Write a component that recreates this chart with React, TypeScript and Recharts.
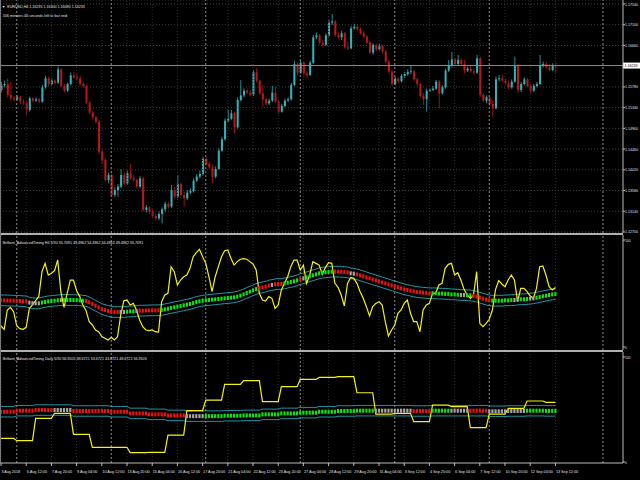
import React from 'react';
import {
  ComposedChart,
  Bar,
  Line,
  XAxis,
  YAxis,
  CartesianGrid,
  ReferenceLine,
} from 'recharts';

// EURUSD H4, 3 Aug - 13 Sep 2018, bar 0 = 3 Aug 04:00
const firstOpen = 1.15715;
const closes = [
  1.15821, 1.15842, 1.15608, 1.15538, 1.15516, 1.15559, 1.15467, 1.15446, 1.1529, 1.15538,
  1.15488, 1.15516, 1.15467, 1.15771, 1.15962, 1.15842, 1.15913, 1.1587, 1.16153, 1.15799,
  1.157, 1.15842, 1.16026, 1.15983, 1.15962, 1.15842, 1.15799, 1.15446, 1.15233, 1.15134,
  1.15042, 1.14405, 1.14228, 1.13804, 1.1391, 1.13485, 1.13591, 1.13662, 1.1391, 1.13733,
  1.13945, 1.13839, 1.13804, 1.13662, 1.13839, 1.13167, 1.13223, 1.13131, 1.13039, 1.1299,
  1.13082, 1.13181, 1.13294, 1.13238, 1.13591, 1.1345, 1.13719, 1.13485, 1.13415, 1.13535,
  1.1357, 1.1379, 1.13875, 1.13931, 1.1425, 1.14143, 1.14073, 1.13875, 1.14037, 1.14426,
  1.14667, 1.15064, 1.15106, 1.15219, 1.14922, 1.15502, 1.15601, 1.157, 1.15658, 1.15615,
  1.1609, 1.15913, 1.15644, 1.15516, 1.15432, 1.15488, 1.15658, 1.15467, 1.15255, 1.15375,
  1.15488, 1.15516, 1.15821, 1.16266, 1.16083, 1.16295, 1.16068, 1.16033, 1.16295, 1.16833,
  1.16875, 1.1672, 1.16677, 1.16875, 1.17144, 1.17172, 1.16882, 1.16833, 1.16918, 1.1662,
  1.16599, 1.17024, 1.17059, 1.17003, 1.16918, 1.16847, 1.1672, 1.16507, 1.1667, 1.16578,
  1.16649, 1.16528, 1.16316, 1.16104, 1.15842, 1.15955, 1.15898, 1.16012, 1.16054, 1.16097,
  1.16111, 1.15941, 1.15842, 1.15587, 1.15516, 1.157, 1.15715, 1.15743, 1.15891, 1.15644,
  1.15771, 1.16125, 1.16224, 1.16366, 1.16266, 1.16351, 1.16266, 1.16125, 1.16168, 1.16111,
  1.16083, 1.16387, 1.15608, 1.15488, 1.15559, 1.15417, 1.15325, 1.15941, 1.15962, 1.15913,
  1.15856, 1.15771, 1.15891, 1.16224, 1.15715, 1.15842, 1.15941, 1.15799, 1.157, 1.15799,
  1.15842, 1.16224, 1.16266, 1.16196, 1.16139, 1.16235, 1.16233,
];
const highs = [
  1.15891, 1.15913, 1.15962, 1.15891, 1.15587, 1.15608, 1.15587, 1.15516, 1.15488, 1.15573,
  1.15559, 1.15559, 1.15545, 1.15821, 1.16012, 1.15998, 1.15962, 1.15941, 1.1621, 1.16175,
  1.15842, 1.1587, 1.16083, 1.16104, 1.16054, 1.16012, 1.15891, 1.15828, 1.15474, 1.15276,
  1.15163, 1.15078, 1.14441, 1.14264, 1.13959, 1.13945, 1.13648, 1.13719, 1.1403, 1.13959,
  1.14002, 1.14143, 1.1391, 1.13839, 1.13889, 1.13875, 1.13273, 1.13252, 1.13181, 1.13096,
  1.13131, 1.13223, 1.13344, 1.13344, 1.13698, 1.13662, 1.1391, 1.13747, 1.13556, 1.13591,
  1.13627, 1.13839, 1.13931, 1.14002, 1.14299, 1.14285, 1.14193, 1.14115, 1.14087, 1.14476,
  1.14724, 1.15113, 1.1529, 1.1529, 1.15255, 1.15559, 1.15927, 1.1575, 1.15743, 1.15715,
  1.16139, 1.16175, 1.15941, 1.15821, 1.15559, 1.1553, 1.15799, 1.15785, 1.15502, 1.15417,
  1.1553, 1.15559, 1.1587, 1.16337, 1.16295, 1.16351, 1.16316, 1.16104, 1.16337, 1.16882,
  1.16932, 1.16903, 1.16762, 1.16918, 1.17201, 1.17328, 1.17201, 1.16932, 1.16974, 1.16946,
  1.16741, 1.17073, 1.17116, 1.17102, 1.17045, 1.1696, 1.16875, 1.16748, 1.16705, 1.16705,
  1.16691, 1.16677, 1.16564, 1.16351, 1.16139, 1.15998, 1.15983, 1.16054, 1.16097, 1.16153,
  1.16245, 1.16139, 1.15969, 1.1587, 1.15644, 1.15743, 1.15757, 1.15799, 1.15927, 1.15927,
  1.15813, 1.16168, 1.16351, 1.16528, 1.16394, 1.16458, 1.1638, 1.16351, 1.1621, 1.16224,
  1.16168, 1.16458, 1.16422, 1.15644, 1.15601, 1.15587, 1.15502, 1.15998, 1.16033, 1.16033,
  1.15955, 1.15913, 1.15941, 1.16422, 1.16266, 1.15884, 1.15983, 1.15969, 1.15842, 1.15842,
  1.15884, 1.16458, 1.16316, 1.16309, 1.16266, 1.16281, 1.163,
];
const lows = [
  1.15658, 1.15771, 1.15559, 1.15488, 1.15467, 1.15488, 1.15417, 1.15396, 1.15184, 1.15255,
  1.15446, 1.1546, 1.15432, 1.15446, 1.15743, 1.15799, 1.15813, 1.15828, 1.15842, 1.15771,
  1.15658, 1.15672, 1.15813, 1.15955, 1.15913, 1.15799, 1.1575, 1.15417, 1.15205, 1.15092,
  1.15007, 1.14356, 1.14157, 1.13769, 1.13733, 1.13436, 1.1345, 1.1345, 1.13627, 1.13698,
  1.13698, 1.13804, 1.13761, 1.13627, 1.13627, 1.13131, 1.1311, 1.13082, 1.1299, 1.12941,
  1.12955, 1.12884, 1.13131, 1.13195, 1.13209, 1.13408, 1.13415, 1.13436, 1.13238, 1.13379,
  1.13507, 1.13535, 1.13761, 1.13839, 1.13903, 1.14115, 1.1403, 1.13733, 1.13839, 1.14016,
  1.14398, 1.14639, 1.15021, 1.15078, 1.14795, 1.14894, 1.15467, 1.15559, 1.15629, 1.15573,
  1.15587, 1.1587, 1.15608, 1.15361, 1.15389, 1.15396, 1.1546, 1.15432, 1.15205, 1.15233,
  1.15347, 1.1546, 1.15488, 1.15799, 1.16026, 1.16054, 1.16026, 1.15962, 1.16012, 1.16266,
  1.1679, 1.16677, 1.16635, 1.16649, 1.16847, 1.17095, 1.16847, 1.1679, 1.16776, 1.16592,
  1.16564, 1.16578, 1.16988, 1.16974, 1.16889, 1.16818, 1.16691, 1.16479, 1.16458, 1.16536,
  1.1655, 1.16493, 1.16281, 1.16068, 1.15799, 1.15813, 1.1587, 1.1587, 1.15969, 1.16012,
  1.16054, 1.15913, 1.15799, 1.15559, 1.15396, 1.15255, 1.15672, 1.15686, 1.15715, 1.15325,
  1.15615, 1.15743, 1.16097, 1.16196, 1.16238, 1.16224, 1.16224, 1.16068, 1.16097, 1.16083,
  1.1604, 1.16054, 1.15573, 1.1546, 1.15432, 1.15375, 1.15134, 1.15304, 1.15898, 1.15884,
  1.15828, 1.15729, 1.15743, 1.1587, 1.15644, 1.15672, 1.15813, 1.15771, 1.15644, 1.15672,
  1.15771, 1.15813, 1.16196, 1.16168, 1.16111, 1.16111, 1.1608,
];

// Brilliant_AdvancedTiming H4: signal line, middle line and its state
const h4Signal = [
  19.6, 16.5, 34.6, 37.1, 33.0, 19.6, 17.1, 16.5, 18.4, 36.1,
  39.3, 43.3, 47.1, 70.4, 78.2, 67.3, 68.9, 71.4, 81.3, 51.7,
  37.1, 50.2, 62.6, 62.6, 52.6, 47.1, 39.3, 34.0, 23.7, 20.6,
  15.9, 14.3, 9.7, 8.1, 6.6, 9.0, 6.6, 9.7, 29.9, 43.3,
  43.9, 39.3, 40.8, 34.6, 25.3, 19.0, 15.9, 15.3, 15.9, 14.3,
  14.0, 42.4, 48.6, 50.2, 75.1, 70.4, 58.0, 62.6, 65.7, 67.3,
  73.5, 84.4, 88.2, 91.3, 84.4, 78.2, 65.7, 51.7, 65.7, 75.1,
  84.4, 90.0, 90.7, 82.9, 76.6, 79.8, 82.0, 82.6, 82.0, 79.8,
  77.6, 72.0, 50.2, 43.9, 43.0, 47.1, 45.5, 36.1, 39.3, 53.3,
  59.5, 65.7, 75.1, 81.3, 81.3, 72.0, 76.6, 59.5, 67.3, 79.8,
  78.2, 76.6, 67.9, 74.5, 78.8, 78.2, 59.5, 55.8, 48.6, 38.3,
  59.5, 65.1, 64.2, 59.5, 51.7, 45.5, 37.7, 29.0, 37.7, 40.8,
  42.4, 39.3, 23.7, 10.3, 15.9, 20.6, 31.5, 34.6, 40.8, 43.9,
  31.5, 23.7, 23.7, 14.3, 34.6, 39.3, 40.8, 50.2, 50.2, 58.0,
  59.5, 73.5, 77.3, 78.2, 67.3, 69.5, 62.6, 53.9, 48.6, 45.5,
  48.6, 70.4, 22.1, 19.0, 22.1, 25.9, 34.6, 53.9, 62.0, 58.9,
  56.4, 62.6, 67.3, 62.6, 42.4, 54.8, 54.8, 51.7, 47.7, 45.5,
  54.8, 75.1, 75.7, 67.3, 56.4, 53.3, 55.7,
];
const h4Mid = [
  43.6, 43.6, 43.5, 43.4, 43.3, 43.2, 43.0, 42.8, 42.6, 41.5,
  41.0, 40.8, 40.8, 41.5, 42.1, 42.7, 43.0, 43.3, 43.6, 43.9,
  44.0, 44.0, 43.9, 43.9, 43.8, 43.6, 43.3, 43.0, 41.8, 40.2,
  38.6, 37.1, 35.5, 34.6, 33.7, 33.0, 32.7, 32.7, 32.7, 32.7,
  33.0, 33.3, 33.3, 33.7, 34.0, 34.0, 34.1, 34.2, 34.3, 34.3,
  34.4, 34.6, 35.2, 35.8, 36.5, 37.1, 37.7, 38.3, 39.0, 39.6,
  40.2, 41.1, 42.1, 42.7, 43.3, 43.6, 43.9, 44.3, 44.6, 44.9,
  45.2, 45.5, 45.8, 46.1, 46.4, 47.1, 48.0, 49.2, 50.5, 51.7,
  53.0, 54.2, 55.2, 55.8, 56.4, 57.4, 58.0, 58.6, 58.9, 58.9,
  59.5, 60.1, 60.8, 61.4, 62.3, 63.6, 64.2, 65.1, 66.1, 67.0,
  67.9, 68.9, 69.5, 69.8, 70.1, 70.4, 70.4, 70.4, 70.4, 70.1,
  69.8, 68.9, 68.5, 67.9, 67.0, 66.1, 65.1, 64.2, 63.2, 62.3,
  61.4, 60.4, 59.5, 58.6, 57.6, 56.7, 55.8, 54.8, 53.9, 53.3,
  52.6, 52.0, 51.4, 51.1, 50.8, 50.5, 50.2, 50.2, 50.2, 49.9,
  49.9, 49.6, 49.6, 49.2, 49.2, 48.9, 48.6, 48.6, 48.3, 48.3,
  47.7, 47.1, 46.1, 45.2, 44.3, 43.6, 43.3, 43.3, 43.3, 43.3,
  43.6, 43.6, 43.9, 43.9, 44.3, 44.6, 44.6, 44.9, 45.2, 45.5,
  46.1, 46.7, 47.4, 48.0, 48.6, 49.2, 49.5,
];
// r = down, g = up, n = neutral (run length per bar)
const h4StateRuns: [string, number][] = [
  ['r', 9], ['n', 4], ['g', 6], ['n', 1], ['g', 7], ['r', 11], ['n', 2], ['g', 3], ['n', 1], ['r', 7],
  ['g', 31], ['r', 4], ['n', 1], ['r', 3], ['g', 5], ['r', 1], ['n', 1], ['g', 9], ['r', 5], ['n', 2],
  ['r', 24], ['g', 9], ['n', 2], ['g', 2], ['r', 6], ['g', 7], ['n', 2], ['g', 3], ['n', 2], ['g', 7],
];
const H4_BAND = 5; // 54.4962 / 44.4962 around 49.4962

// Brilliant_AdvancedTiming Daily, one value per trading day (3 Aug .. 13 Sep)
const dailySignal = [
  22.5, 20.3, 41.6, 46.4, 26.3, 14.0, 14.0, 8.9, 9.2, 25.7,
  48.9, 59.0, 74.0, 77.5, 57.5, 71.8, 78.7, 80.6, 81.3, 66.0,
  45.7, 46.3, 38.4, 54.3, 52.7, 32.7, 45.7, 51.1, 58.1, 56.9,
];
const dailyMid = [
  47.9, 48.9, 49.5, 49.5, 48.6, 48.6, 47.9, 46.3, 45.4, 44.4,
  43.7, 43.7, 44.1, 44.4, 45.4, 46.3, 47.0, 47.9, 48.6, 48.9,
  48.9, 48.9, 48.6, 48.9, 48.9, 48.9, 48.3, 48.6, 48.9, 48.7,
];
const dailyState = [
  'r', 'r', 'r', 'n', 'r', 'r', 'r', 'r', 'r', 'r',
  'n', 'g', 'g', 'g', 'g', 'g', 'g', 'g', 'g', 'g',
  'n', 'n', 'r', 'g', 'n', 'r', 'n', 'n', 'g', 'g',
];
const D_BAND = 5; // 53.6721 / 43.6721 around 48.6721

const timeTickBars = [0, 8, 16, 24, 32, 40, 48, 56, 64, 72, 80, 88, 96, 104, 112, 120, 128, 136, 144, 152, 160, 168, 176];
const timeTickLabels = [
  '3 Aug 2018', '6 Aug 12:00', '7 Aug 20:00', '9 Aug 04:00', '10 Aug 12:00', '13 Aug 20:00',
  '15 Aug 04:00', '16 Aug 12:00', '17 Aug 20:00', '21 Aug 04:00', '22 Aug 12:00', '23 Aug 20:00',
  '27 Aug 04:00', '28 Aug 12:00', '29 Aug 20:00', '31 Aug 04:00', '3 Sep 12:00', '4 Sep 20:00',
  '6 Sep 04:00', '7 Sep 12:00', '10 Sep 20:00', '12 Sep 04:00', '13 Sep 12:00',
];
const weekBars = [5, 35, 65, 95, 125, 155, 191.1];
const priceTicks = [1.1754, 1.171, 1.1666, 1.1578, 1.1534, 1.149, 1.1446, 1.1402, 1.1358, 1.1314, 1.127];

const headerSymbol = 'EURUSD,H4  1.16235 1.16300 1.16080 1.16233';
const headerTimer = '106 minutes 46 seconds left to bar end';
const h4Title = 'Brilliant_AdvancedTiming H4 5/30 55.7091 49.4962 54.4962 44.4962 49.4962 55.7091';
const dailyTitle = 'Brilliant_AdvancedTiming Daily 5/30 56.9105 48.6721 53.6721 43.6721 48.6721 56.9105';

const FONT = "'Liberation Sans Narrow', 'Liberation Sans', Arial, sans-serif";
const BULL = '#2fb4bc';
const BEAR = '#c0161b';
const CYAN = '#22a9bb';
const YELLOW = '#f4f20e';
const TEXT = '#e2e2e2';
const AXIS = '#bcbcbc';
const STATE_COLOR: Record<string, string> = { r: '#e41414', g: '#12e012', n: '#a5a5a5' };
const CHAR_W = 1.85; // width of one glyph of the tiny terminal font

const X_DOMAIN: [number, number] = [-0.32, 197.46];
const PRICE_DOMAIN: [number, number] = [1.12678, 1.17625];
const H4_DOMAIN: [number, number] = [-2.8, 104.7];
const D_DOMAIN: [number, number] = [-0.95, 104.8];

const h4State = h4StateRuns.flatMap(([s, n]) => Array(n).fill(s) as string[]);

const rows = closes.map((c, i) => {
  const o = i === 0 ? firstOpen : closes[i - 1];
  const d = i < 5 ? 0 : 1 + Math.floor((i - 5) / 6);
  return {
    i,
    o,
    c,
    h: highs[i],
    l: lows[i],
    range: [lows[i], highs[i]],
    sig: h4Signal[i],
    mid: h4Mid[i],
    up: h4Mid[i] + H4_BAND,
    lo: h4Mid[i] - H4_BAND,
    st: h4State[i],
    dSig: dailySignal[d],
    dMid: dailyMid[d],
    dUp: dailyMid[d] + D_BAND,
    dLo: dailyMid[d] - D_BAND,
    dSt: dailyState[d],
  };
});

function TinyText({ x, y, text, fill = TEXT, size = 4.4 }: { x: number; y: number; text: string; fill?: string; size?: number }) {
  return (
    <text
      x={x}
      y={y}
      fontSize={size}
      fontFamily={FONT}
      fill={fill}
      textLength={text.length * CHAR_W}
      lengthAdjust="spacingAndGlyphs"
    >
      {text}
    </text>
  );
}

function Candle(props: any) {
  const { x, y, width, height, payload } = props;
  if (x == null || y == null) return null;
  const { o, h, l, c } = payload;
  const span = h - l || 1e-9;
  const yOf = (v: number) => y + ((h - v) / span) * height;
  const color = c >= o ? BULL : BEAR;
  const cx = x + width / 2;
  const top = yOf(Math.max(o, c));
  const bot = yOf(Math.min(o, c));
  return (
    <g>
      <line x1={cx} x2={cx} y1={y} y2={y + height} stroke={color} strokeWidth={0.8} />
      <rect x={x} y={top} width={width} height={Math.max(bot - top, 0.8)} fill={color} />
    </g>
  );
}

function MidDot(props: any) {
  const { cx, cy, payload, stateKey } = props;
  if (cx == null || cy == null) return null;
  return <rect x={cx - 1.1} y={cy - 2} width={2.2} height={4} fill={STATE_COLOR[payload[stateKey]]} />;
}

function PriceTag(props: any) {
  const vb = props.viewBox || {};
  const x = (vb.x ?? 0) + (vb.width ?? 0);
  const y = vb.y ?? 0;
  return (
    <g>
      <rect x={x} y={y - 3} width={17} height={6} fill="#ffffff" />
      <TinyText x={x + 1.5} y={y + 1.5} size={3.7} text={closes[closes.length - 1].toFixed(5)} fill="#000000" />
    </g>
  );
}

function PriceTick(props: any) {
  const { x, y, payload } = props;
  return <TinyText x={x} y={y + 1.5} size={3.7} text={Number(payload.value).toFixed(5)} />;
}

function LevelTick(props: any) {
  const { x, y, payload } = props;
  return <TinyText x={x} y={y + 1.5} size={3.9} text={String(payload.value)} />;
}

function TimeTick(props: any) {
  const { x, y, payload } = props;
  const idx = timeTickBars.indexOf(payload.value);
  return <TinyText x={x + 0.5} y={y + 7.2} text={timeTickLabels[idx]} />;
}

function verticalGrid() {
  return [
    ...timeTickBars.map((b) => (
      <ReferenceLine key={`t${b}`} x={b} stroke="#2f2f2f" strokeDasharray="1 2" />
    )),
    ...weekBars.map((b) => (
      <ReferenceLine key={`w${b}`} x={b} stroke="#8a8a8a" strokeDasharray="2 2" />
    )),
  ];
}

const noMargin = { top: 0, right: 0, bottom: 0, left: 0 };

export default function App() {
  return (
    <div style={{ position: 'absolute', left: 0, top: 0, width: 640, height: 480, background: '#000' }}>
      <div style={{ position: 'absolute', left: 0, top: 0 }}>
        <ComposedChart width={640} height={233} data={rows} margin={noMargin}>
          <CartesianGrid vertical={false} stroke="#3d3d3d" strokeDasharray="1 2" />
          <XAxis type="number" dataKey="i" domain={X_DOMAIN} allowDataOverflow hide />
          <YAxis
            orientation="right"
            width={17}
            domain={PRICE_DOMAIN}
            allowDataOverflow
            ticks={priceTicks}
            interval={0}
            tick={<PriceTick />}
            tickSize={2}
            tickMargin={0}
            axisLine={{ stroke: AXIS }}
            tickLine={{ stroke: AXIS }}
          />
          {verticalGrid()}
          <ReferenceLine y={closes[closes.length - 1]} stroke="#8c8c8c" label={<PriceTag />} />
          <Bar dataKey="range" shape={<Candle />} barSize={2} isAnimationActive={false} />
        </ComposedChart>
      </div>
      <div style={{ position: 'absolute', left: 0, top: 233, width: 623, height: 2, background: '#b0b0b0' }} />
      <div style={{ position: 'absolute', left: 0, top: 235 }}>
        <ComposedChart width={640} height={115} data={rows} margin={noMargin}>
          <XAxis type="number" dataKey="i" domain={X_DOMAIN} allowDataOverflow hide />
          <YAxis
            orientation="right"
            width={17}
            domain={H4_DOMAIN}
            allowDataOverflow
            ticks={[0, 100]}
            interval={0}
            tick={<LevelTick />}
            tickSize={2}
            tickMargin={0}
            axisLine={{ stroke: AXIS }}
            tickLine={{ stroke: AXIS }}
          />
          {verticalGrid()}
          <Line dataKey="up" stroke={CYAN} strokeWidth={0.9} dot={false} activeDot={false} isAnimationActive={false} />
          <Line dataKey="lo" stroke={CYAN} strokeWidth={0.9} dot={false} activeDot={false} isAnimationActive={false} />
          <Line dataKey="mid" stroke="none" dot={<MidDot stateKey="st" />} activeDot={false} isAnimationActive={false} />
          <Line dataKey="sig" stroke={YELLOW} strokeWidth={1.2} dot={false} activeDot={false} isAnimationActive={false} />
        </ComposedChart>
      </div>
      <div style={{ position: 'absolute', left: 0, top: 350, width: 623, height: 2, background: '#b0b0b0' }} />
      <div style={{ position: 'absolute', left: 0, top: 352 }}>
        <ComposedChart width={640} height={128} data={rows} margin={noMargin}>
          <XAxis
            type="number"
            dataKey="i"
            domain={X_DOMAIN}
            allowDataOverflow
            ticks={timeTickBars}
            interval={0}
            height={17}
            tick={<TimeTick />}
            tickSize={3}
            tickMargin={0}
            axisLine={{ stroke: AXIS }}
            tickLine={{ stroke: AXIS }}
          />
          <YAxis
            orientation="right"
            width={17}
            domain={D_DOMAIN}
            allowDataOverflow
            ticks={[0, 100]}
            interval={0}
            tick={<LevelTick />}
            tickSize={2}
            tickMargin={0}
            axisLine={{ stroke: AXIS }}
            tickLine={{ stroke: AXIS }}
          />
          {verticalGrid()}
          <Line dataKey="dUp" stroke={CYAN} strokeWidth={0.9} dot={false} activeDot={false} isAnimationActive={false} />
          <Line dataKey="dLo" stroke={CYAN} strokeWidth={0.9} dot={false} activeDot={false} isAnimationActive={false} />
          <Line dataKey="dMid" stroke="none" dot={<MidDot stateKey="dSt" />} activeDot={false} isAnimationActive={false} />
          <Line dataKey="dSig" stroke={YELLOW} strokeWidth={1.2} dot={false} activeDot={false} isAnimationActive={false} />
        </ComposedChart>
      </div>
      <div style={{ position: 'absolute', left: 0, top: 0, width: 1, height: 463, background: '#7a7a7a' }} />
      <svg
        width={640}
        height={480}
        style={{ position: 'absolute', left: 0, top: 0, pointerEvents: 'none' }}
        fontFamily={FONT}
        fill={TEXT}
      >
        <text x={1.8} y={7.6} fontSize={3.6}>▼</text>
        <text x={7.3} y={7.6} fontSize={4.4} textLength={77.5} lengthAdjust="spacingAndGlyphs">{headerSymbol}</text>
        <text x={2.7} y={16.5} fontSize={4.4} textLength={64.5} lengthAdjust="spacingAndGlyphs">{headerTimer}</text>
        <text x={2.7} y={243.6} fontSize={4.4} textLength={140.5} lengthAdjust="spacingAndGlyphs">{h4Title}</text>
        <text x={2.7} y={359.9} fontSize={4.4} textLength={144} lengthAdjust="spacingAndGlyphs">{dailyTitle}</text>
      </svg>
    </div>
  );
}
